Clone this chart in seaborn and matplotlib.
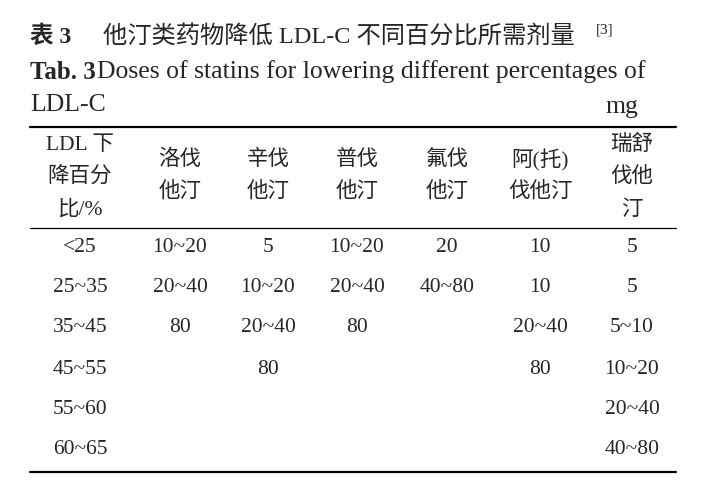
import matplotlib
matplotlib.use("Agg")
import matplotlib.pyplot as plt
import seaborn as sns

sns.set_theme(style="white")
plt.rcParams['font.family'] = ['Liberation Serif', 'Noto Sans CJK SC', 'DejaVu Sans']

title_cn = "他汀类药物降低 LDL-C 不同百分比所需剂量"
title_en = "Doses of statins for lowering different percentages of"
unit = "mg"
headers = [["LDL 下", "降百分", "比/%"], ["洛伐", "他汀"], ["辛伐", "他汀"], ["普伐", "他汀"],
           ["氟伐", "他汀"], ["阿(托)", "伐他汀"], ["瑞舒", "伐他", "汀"]]
ranges = ["<25", "25~35", "35~45", "45~55", "55~60", "60~65"]
lovastatin = ["10~20", "20~40", "80", "", "", ""]
simvastatin = ["5", "10~20", "20~40", "80", "", ""]
pravastatin = ["10~20", "20~40", "80", "", "", ""]
fluvastatin = ["20", "40~80", "", "", "", ""]
atorvastatin = ["10", "10", "20~40", "80", "", ""]
rosuvastatin = ["5", "5", "5~10", "10~20", "20~40", "40~80"]

fig = plt.figure(figsize=(7.16, 4.91), dpi=100)
ax = fig.add_axes([0, 0, 1, 1])
ax.set_xlim(0, 716); ax.set_ylim(491, 0); ax.axis("off")

ax.text(30, 37, "表 3", fontsize=17, fontweight="bold", va="center")
ax.text(103, 37, title_cn, fontsize=17.5, va="center")
ax.text(596, 30, "[3]", fontsize=11, va="center")
ax.text(30, 72, "Tab. 3", fontsize=18, fontweight="bold", va="center")
ax.text(97, 72, title_en, fontsize=18.5, va="center")
ax.text(30, 105, "LDL-C", fontsize=18.5, va="center")
ax.text(606, 107, unit, fontsize=18.5, va="center")

ax.plot([30, 676], [127, 127], color="black", lw=1.6)
ax.plot([30, 676], [228, 228], color="black", lw=0.9)
ax.plot([30, 676], [472, 472], color="black", lw=1.6)

xs = [80, 180, 268, 357, 447, 540, 632]
for x, h in zip(xs, headers):
    ys = [145, 177, 210] if len(h) == 3 else [160, 192]
    for y, t in zip(ys, h):
        ax.text(x, y, t, fontsize=15.5, ha="center", va="center")

cols = [ranges, lovastatin, simvastatin, pravastatin, fluvastatin, atorvastatin, rosuvastatin]
row_y = [247, 288, 328, 369, 409, 450]
for x, col in zip(xs, cols):
    for y, t in zip(row_y, col):
        if t:
            ax.text(x, y, t, fontsize=15.5, ha="center", va="center")

fig.savefig("out.png", dpi=100)
